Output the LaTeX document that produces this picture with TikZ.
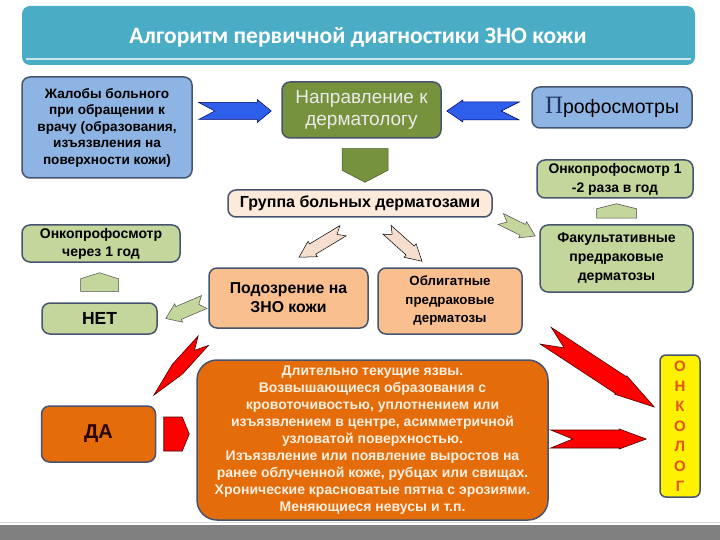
\documentclass[tikz,border=0pt]{standalone}
\usepackage{fontspec}
\setmainfont{Liberation Sans}
\newfontfamily\titlefont{Carlito}
\newfontfamily\bigletter{Liberation Serif}
\usetikzlibrary{calc}

\definecolor{boxline}{RGB}{70,84,110}
\definecolor{skyblue}{RGB}{141,180,226}
\definecolor{olivegreen}{RGB}{118,146,60}
\definecolor{lightolive}{RGB}{195,214,155}
\definecolor{peach}{RGB}{250,191,143}
\definecolor{pinkish}{RGB}{253,234,218}
\definecolor{deeporange}{RGB}{228,108,10}
\definecolor{titleblue}{RGB}{75,172,198}
\definecolor{arrowblue}{RGB}{45,95,235}
\definecolor{palepink}{RGB}{245,222,205}
\definecolor{letterred}{RGB}{225,85,25}
\definecolor{navyletter}{RGB}{30,50,100}

\tikzset{
	box/.style={draw=boxline, line width=1.5pt, rounded corners=8pt, align=center, inner sep=2pt},
	bluebox/.style={box, fill=skyblue},
	greenbox/.style={box, fill=lightolive},
	peachbox/.style={box, fill=peach},
	orangebox/.style={box, fill=deeporange},
	bluearrow/.style={fill=arrowblue, draw=blue!40!black, line width=0.5pt},
	redarrow/.style={fill=red, draw=red!30!black, line width=0.6pt},
	greenarrow/.style={fill=lightolive, draw=black!70, line width=0.5pt},
	olivearrow/.style={fill=olivegreen, draw=olivegreen!60!black, line width=0.5pt},
	pinkarrow/.style={fill=palepink, draw=black, line width=0.5pt}
}

% block arrow: style, from, to, half width, notch, head length, flare
\newcommand\bigarrow[7]{%
	\path let \p1=($(#3)-(#2)$) in
		\pgfextra{\pgfmathparse{atan2(\y1,\x1)}\xdef\arrang{\pgfmathresult}%
			\pgfmathparse{veclen(\x1,\y1)}\xdef\arrlen{\pgfmathresult}};
	\draw[#1,shift={(#2)},rotate=\arrang]
		(0,#4) -- (#5,0) -- (0,-#4) -- (\arrlen-#6,-#4) -- (\arrlen-#6,-#4-#7)
		-- (\arrlen,0) -- (\arrlen-#6,#4+#7) -- (\arrlen-#6,#4) -- cycle;
}

\begin{document}
\begin{tikzpicture}[x=1pt,y=-1pt]
	\useasboundingbox (0,0) rectangle (720,540);

	% heading and bottom band
	\fill[titleblue, rounded corners=8pt] (22,6) rectangle (695,65);
	\draw[white!70!titleblue, line width=2pt] (26,59) -- (691,59);
	\node[text=white, font=\titlefont\bfseries\fontsize{23.5}{26}\selectfont] (title) at (358,37) {Алгоритм первичной диагностики ЗНО кожи};
	\fill[black!50] (0,525) rectangle (720,540);
	\draw[black!15, line width=1pt] (0,522) -- (720,522);

	% boxes
	\node[bluebox, minimum width=170, minimum height=101, font=\bfseries\fontsize{13.6}{16.5}\selectfont] (zhaloby) at (107,127.5)
		{Жалобы больного\\при обращении к\\врачу (образования,\\изъязвления на\\поверхности кожи)};
	\node[box, fill=olivegreen, minimum width=159, minimum height=56, text=white!92!black, font=\fontsize{19}{22}\selectfont] (napr) at (361.5,110)
		{Направление к\\дерматологу};
	\node[bluebox, minimum width=160, minimum height=41] (prof) at (612,107.5)
		{{\bigletter\fontsize{25}{25}\selectfont\color{navyletter}П}{\fontsize{19.5}{22}\selectfont рофосмотры}};
	\node[box, fill=pinkish, minimum width=264, minimum height=27, font=\bfseries\fontsize{16}{18}\selectfont] (gruppa) at (360,203.5)
		{Группа больных дерматозами};
	\node[greenbox, minimum width=156, minimum height=38, font=\bfseries\fontsize{13.9}{19}\selectfont] (onkoa) at (615,179)
		{Онкопрофосмотр 1\\-2 раза в год};
	\node[greenbox, minimum width=153, minimum height=67, font=\bfseries\fontsize{14.1}{19}\selectfont] (fakult) at (616.5,258.5)
		{Факультативные\\предраковые\\дерматозы};
	\node[greenbox, minimum width=158, minimum height=37, font=\bfseries\fontsize{14}{18}\selectfont] (onkob) at (101,243.5)
		{Онкопрофосмотр\\через 1 год};
	\node[greenbox, minimum width=115, minimum height=31, font=\bfseries\fontsize{17.5}{20}\selectfont] (net) at (99.5,318.5) {НЕТ};
	\node[peachbox, minimum width=159, minimum height=60, font=\bfseries\fontsize{15.8}{19}\selectfont] (podozr) at (288.5,298)
		{Подозрение на\\ЗНО кожи};
	\node[peachbox, minimum width=144, minimum height=66, font=\bfseries\fontsize{13.3}{18.5}\selectfont] (oblig) at (450,301)
		{Облигатные\\предраковые\\дерматозы};
	\node[orangebox, minimum width=114, minimum height=56, text=black!85!red, font=\bfseries\fontsize{20}{22}\selectfont] (da) at (98.5,434) {ДА};
	\node[orangebox, rounded corners=20pt, minimum width=351, minimum height=160, text=white!88!orange, font=\bfseries\fontsize{14}{17}\selectfont] (dlit) at (372.5,440)
		{Длительно текущие язвы.\\Возвышающиеся образования с\\кровоточивостью, уплотнением или\\изъязвлением в центре, асимметричной\\узловатой поверхностью.\\Изъязвление или появление выростов на\\ранее облученной коже, рубцах или свищах.\\Хронические красноватые пятна с эрозиями.\\Меняющиеся невусы и т.п.};
	\node[box, fill=yellow, rounded corners=6pt, minimum width=40, minimum height=142, text=letterred, font=\bfseries\fontsize{15}{20}\selectfont] (onkolog) at (680,426)
		{О\\Н\\К\\О\\Л\\О\\Г};

	% arrow ends
	\coordinate (a1s) at ($(zhaloby.east|-napr.west)+(6,1)$);
	\coordinate (a1e) at ($(napr.west)+(-10,1)$);
	\coordinate (a2s) at ($(prof.west)+(-12,3.5)$);
	\coordinate (a2e) at ($(napr.east)+(5,1)$);
	\coordinate (a3s) at ($(napr.south)+(3.5,10)$);
	\coordinate (a3e) at ($(a3s|-gruppa.north)+(0,-7)$);
	\coordinate (a4s) at ($(gruppa.south)+(-17,13)$);
	\coordinate (a4e) at ($(podozr.north)+(10.5,-10)$);
	\coordinate (a5s) at ($(gruppa.south)+(27,12)$);
	\coordinate (a5e) at ($(oblig.north)+(-28,-6)$);
	\coordinate (a6s) at ($(gruppa.east)+(8,15.5)$);
	\coordinate (a6e) at ($(fakult.west)+(-4,-22.5)$);
	\coordinate (a7s) at ($(net.north)+(0,-11)$);
	\coordinate (a7e) at ($(a7s|-onkob.south)+(0,10)$);
	\coordinate (a8s) at ($(fakult.north)+(0,-6)$);
	\coordinate (a8e) at ($(a8s|-onkoa.south)+(0,5)$);
	\coordinate (a9s) at ($(podozr.west)+(-4,4)$);
	\coordinate (a9e) at ($(net.east)+(8,0)$);
	\coordinate (a10s) at ($(podozr.south west)+(-5,12)$);
	\coordinate (a10e) at ($(da.north east)+(-2.5,-10)$);
	\coordinate (a11s) at ($(da.east)+(7.5,0)$);
	\coordinate (a11e) at ($(dlit.west|-da.east)+(-7,0)$);
	\coordinate (a12s) at ($(oblig.south east)+(23,1)$);
	\coordinate (a12e) at ($(onkolog.west)+(-5,-19)$);
	\coordinate (a13s) at ($(dlit.east)+(2,-1)$);
	\coordinate (a13e) at ($(onkolog.west|-a13s)+(-13,0)$);

	% arrows
	\bigarrow{bluearrow}{a1s}{a1e}{8.5}{16}{14}{3}
	\bigarrow{bluearrow}{a2s}{a2e}{9}{18}{16}{2}
	\bigarrow{olivearrow}{a3s}{a3e}{23}{0}{12}{0}
	\bigarrow{pinkarrow}{a4s}{a4e}{6}{7}{16}{3}
	\bigarrow{pinkarrow}{a5s}{a5e}{6}{7}{16}{3}
	\bigarrow{greenarrow}{a6s}{a6e}{6}{7}{14}{3}
	\bigarrow{greenarrow}{a7s}{a7e}{19}{0}{6}{0}
	\bigarrow{greenarrow}{a8s}{a8e}{20}{0}{5}{0}
	\bigarrow{greenarrow}{a9s}{a9e}{7}{6}{14}{3}
	\bigarrow{redarrow}{a10s}{a10e}{7}{13}{35}{0}
	\bigarrow{redarrow}{a11s}{a11e}{17}{0}{7}{0}
	\bigarrow{redarrow}{a12s}{a12e}{10}{22}{40}{1}
	\bigarrow{redarrow}{a13s}{a13e}{9}{22}{27}{1}
\end{tikzpicture}
\end{document}
